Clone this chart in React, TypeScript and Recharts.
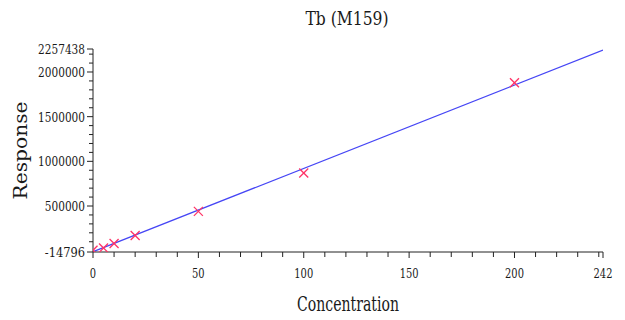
import { ComposedChart, Line, Scatter, XAxis, YAxis, Label } from "recharts";

// calibration standards (Concentration vs Response)
const concentrations = [0, 5, 10, 20, 50, 100, 200];
const responses = [5000, 30000, 80000, 170000, 440000, 870000, 1880000];

// fitted calibration line endpoints
const fitX = [0, 242];
const fitY = [-12000, 2245000];

const xTicks = [0, 10, 20, 30, 40, 50, 60, 70, 80, 90, 100, 110, 120, 130, 140, 150, 160, 170, 180, 190, 200, 210, 220, 230, 240, 242];
const xMajor = [0, 50, 100, 150, 200, 242];
const yMinor = [100000, 200000, 300000, 400000, 600000, 700000, 800000, 900000, 1100000, 1200000, 1300000, 1400000, 1600000, 1700000, 1800000, 1900000, 2100000, 2200000];
const yMajor = [-14796, 500000, 1000000, 1500000, 2000000, 2257438];

// only DejaVu Serif is available as a serif face; squeeze it a bit to look like Times
const serif = "DejaVu Serif, serif";
const axisColor = "#222";
const textColor = "#1a1a1a";

const points = concentrations.map((x, i) => ({ x, y: responses[i] }));
const fitData = fitX.map((x, i) => ({ x, y: fitY[i] }));

const XTick = (props: any) => {
  const { x, y, payload } = props;
  const major = xMajor.includes(payload.value);
  const label = String(payload.value);
  return (
    <g>
      <line x1={x} y1={y} x2={x} y2={y + (major ? 6 : 5)} stroke={axisColor} strokeWidth={1} />
      {major && (
        <text
          x={x}
          y={y + 26}
          textAnchor="middle"
          fontFamily={serif}
          fontSize={13.5}
          fill={textColor}
          textLength={label.length * 6.3}
          lengthAdjust="spacingAndGlyphs"
        >
          {label}
        </text>
      )}
    </g>
  );
};

const YTick = (props: any) => {
  const { x, y, payload } = props;
  const major = yMajor.includes(payload.value);
  const label = String(payload.value);
  return (
    <g>
      <line x1={x - (major ? 6 : 4)} y1={y} x2={x} y2={y} stroke={axisColor} strokeWidth={1} />
      {major && (
        <text
          x={x - 8}
          y={y + 5}
          textAnchor="end"
          fontFamily={serif}
          fontSize={13}
          fill={textColor}
          textLength={label.length * 6.7}
          lengthAdjust="spacingAndGlyphs"
        >
          {label}
        </text>
      )}
    </g>
  );
};

const Cross = (props: any) => {
  const { cx, cy } = props;
  const s = 4.5;
  return (
    <g stroke="#ff3366" strokeWidth={1.3}>
      <line x1={cx - s} y1={cy - s} x2={cx + s} y2={cy + s} />
      <line x1={cx - s} y1={cy + s} x2={cx + s} y2={cy - s} />
    </g>
  );
};

const XLabel = (props: any) => {
  const { x, y, width, height } = props.viewBox;
  return (
    <text
      x={x + width / 2}
      y={y + height - 9}
      textAnchor="middle"
      fontFamily={serif}
      fontSize={20}
      fill={textColor}
      textLength={102}
      lengthAdjust="spacingAndGlyphs"
    >
      Concentration
    </text>
  );
};

const YLabel = (props: any) => {
  const { y, height } = props.viewBox;
  const cx = 20;
  const cy = y + height / 2;
  return (
    <text
      x={cx}
      y={cy}
      dy="0.36em"
      transform={`rotate(-90, ${cx}, ${cy})`}
      textAnchor="middle"
      fontFamily={serif}
      fontSize={19}
      fill={textColor}
      textLength={98}
      lengthAdjust="spacingAndGlyphs"
    >
      Response
    </text>
  );
};

export default function App() {
  return (
    <div style={{ position: "absolute", left: 0, top: 0, width: 625, height: 320, background: "#fff" }}>
      <svg width={625} height={40} style={{ position: "absolute", left: 0, top: 0 }}>
        <text
          x={347}
          y={25}
          textAnchor="middle"
          fontFamily={serif}
          fontSize={18.5}
          fill={textColor}
          textLength={83}
          lengthAdjust="spacingAndGlyphs"
        >
          Tb (M159)
        </text>
      </svg>
      <ComposedChart width={625} height={320} margin={{ top: 49, right: 22, bottom: 0, left: 0 }}>
        <XAxis
          dataKey="x"
          type="number"
          domain={[0, 242]}
          ticks={xTicks}
          interval={0}
          tick={<XTick />}
          tickLine={false}
          tickSize={0}
          tickMargin={0}
          axisLine={{ stroke: axisColor }}
          height={68}
          allowDataOverflow
        >
          <Label content={<XLabel />} />
        </XAxis>
        <YAxis
          dataKey="y"
          type="number"
          domain={[-14796, 2257438]}
          ticks={[...yMajor, ...yMinor]}
          interval={0}
          tick={<YTick />}
          tickLine={false}
          tickSize={0}
          tickMargin={0}
          axisLine={{ stroke: axisColor }}
          width={93}
          allowDataOverflow
        >
          <Label content={<YLabel />} />
        </YAxis>
        <Line
          data={fitData}
          dataKey="y"
          type="linear"
          stroke="#4646f5"
          strokeWidth={1.3}
          dot={false}
          activeDot={false}
          isAnimationActive={false}
        />
        <Scatter data={points} dataKey="y" shape={<Cross />} isAnimationActive={false} />
      </ComposedChart>
    </div>
  );
}
